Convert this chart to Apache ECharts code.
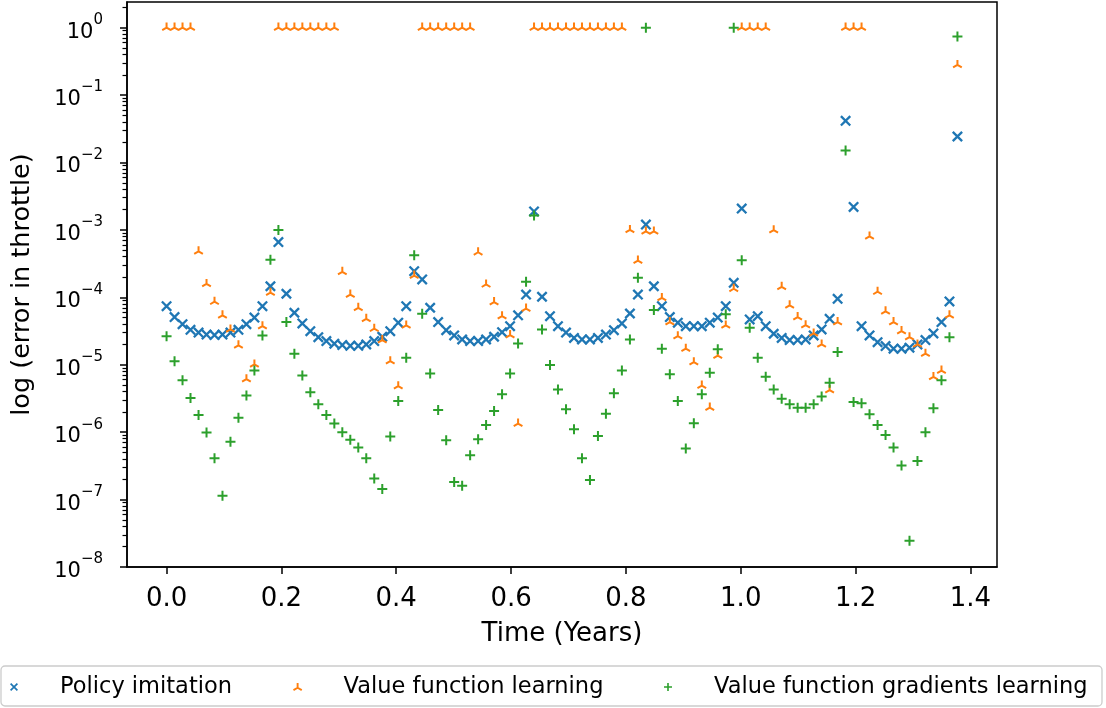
<!DOCTYPE html>
<html>
<head>
<meta charset="utf-8">
<script src="https://cdn.jsdelivr.net/npm/echarts@6/dist/echarts.min.js"></script>
<style>
  html, body { margin: 0; padding: 0; background: #fff; }
  #chart { width: 1106px; height: 708px; }
</style>
</head>
<body>
<div id="chart"></div>
<script>
// sample times (years), one every ~5 days
const times = [
  0.0000, 0.0139, 0.0278, 0.0417, 0.0557, 0.0696, 0.0835, 0.0974, 0.1113, 0.1252,
  0.1391, 0.1530, 0.1670, 0.1809, 0.1948, 0.2087, 0.2226, 0.2365, 0.2504, 0.2643,
  0.2783, 0.2922, 0.3061, 0.3200, 0.3339, 0.3478, 0.3617, 0.3757, 0.3896, 0.4035,
  0.4174, 0.4313, 0.4452, 0.4591, 0.4730, 0.4870, 0.5009, 0.5148, 0.5287, 0.5426,
  0.5565, 0.5704, 0.5843, 0.5983, 0.6122, 0.6261, 0.6400, 0.6539, 0.6678, 0.6817,
  0.6957, 0.7096, 0.7235, 0.7374, 0.7513, 0.7652, 0.7791, 0.7930, 0.8070, 0.8209,
  0.8348, 0.8487, 0.8626, 0.8765, 0.8904, 0.9043, 0.9183, 0.9322, 0.9461, 0.9600,
  0.9739, 0.9878, 1.0017, 1.0156, 1.0296, 1.0435, 1.0574, 1.0713, 1.0852, 1.0991,
  1.1130, 1.1270, 1.1409, 1.1548, 1.1687, 1.1826, 1.1965, 1.2104, 1.2243, 1.2383,
  1.2522, 1.2661, 1.2800, 1.2939, 1.3078, 1.3217, 1.3356, 1.3496, 1.3635, 1.3774
];

const policyImitation = [
  7.4e-5, 5.1e-5, 4.0e-5, 3.3e-5, 3.0e-5, 2.8e-5, 2.75e-5, 2.8e-5, 3.0e-5, 3.3e-5,
  4.0e-5, 5.0e-5, 7.4e-5, 1.46e-4, 6.6e-4, 1.13e-4, 5.9e-5, 4.1e-5, 3.15e-5, 2.56e-5,
  2.24e-5, 2.05e-5, 1.96e-5, 1.91e-5, 1.91e-5, 2.0e-5, 2.24e-5, 2.6e-5, 3.15e-5, 4.2e-5,
  7.4e-5, 2.44e-4, 1.84e-4, 7.0e-5, 4.3e-5, 3.26e-5, 2.72e-5, 2.37e-5, 2.24e-5, 2.24e-5,
  2.37e-5, 2.6e-5, 3.04e-5, 3.73e-5, 5.4e-5, 1.1e-4, 1.88e-3, 1.02e-4, 5.25e-5, 3.73e-5,
  3.0e-5, 2.5e-5, 2.37e-5, 2.37e-5, 2.5e-5, 2.8e-5, 3.26e-5, 4.1e-5, 5.75e-5, 1.1e-4,
  1.2e-3, 1.46e-4, 7.4e-5, 5.1e-5, 4.2e-5, 3.73e-5, 3.73e-5, 3.73e-5, 4.2e-5, 5.0e-5,
  7.4e-5, 1.64e-4, 2.07e-3, 4.7e-5, 5.25e-5, 3.73e-5, 2.88e-5, 2.5e-5, 2.32e-5, 2.32e-5,
  2.37e-5, 2.72e-5, 3.34e-5, 4.8e-5, 9.5e-5, 4.15e-2, 2.19e-3, 3.73e-5, 2.72e-5, 2.16e-5,
  1.89e-5, 1.73e-5, 1.73e-5, 1.79e-5, 2.0e-5, 2.32e-5, 2.91e-5, 4.3e-5, 8.7e-5, 2.43e-2
];

const valueFunction = [
  1, 1, 1, 1, 4.8e-4, 1.58e-4, 8.6e-5, 5.4e-5, 3.34e-5, 1.94e-5,
  6.1e-6, 1.01e-5, 3.73e-5, 1.17e-4, 1, 1, 1, 1, 1, 1,
  1, 1, 2.39e-4, 1.1e-4, 7.0e-5, 4.8e-5, 3.42e-5, 2.32e-5, 1.13e-5, 4.8e-6,
  3.83e-5, 2.1e-4, 1, 1, 1, 1, 1, 1, 1, 4.66e-4,
  1.55e-4, 8.5e-5, 5.25e-5, 2.75e-5, 1.34e-6, 6.8e-5, 1, 1, 1, 1,
  1, 1, 1, 1, 1, 1, 1, 1, 1.0e-3, 3.5e-4,
  9.5e-4, 9.5e-4, 9.8e-5, 4.3e-5, 2.65e-5, 1.73e-5, 1.09e-5, 4.9e-6, 2.31e-6, 1.37e-5,
  3.83e-5, 1.34e-4, 1, 1, 1, 1, 9.9e-4, 1.43e-4, 7.6e-5, 5.1e-5,
  3.86e-5, 2.91e-5, 2.0e-5, 4.2e-6, 4.3e-5, 1, 1, 1, 8.0e-4, 1.21e-4,
  6.2e-5, 4.3e-5, 3.15e-5, 2.56e-5, 2.0e-5, 1.46e-5, 6.6e-6, 8.2e-6, 5.4e-5, 0.28
];

const valueGradients = [
  2.65e-5, 1.13e-5, 5.9e-6, 3.2e-6, 1.8e-6, 9.9e-7, 4.1e-7, 1.14e-7, 7.2e-7, 1.64e-6,
  3.5e-6, 8.2e-6, 2.72e-5, 3.6e-4, 1.0e-3, 4.3e-5, 1.46e-5, 6.9e-6, 3.9e-6, 2.6e-6,
  1.8e-6, 1.34e-6, 1.0e-6, 7.7e-7, 5.9e-7, 4.1e-7, 2.06e-7, 1.43e-7, 8.6e-7, 2.9e-6,
  1.27e-5, 4.2e-4, 5.7e-5, 7.4e-6, 2.13e-6, 7.6e-7, 1.83e-7, 1.6e-7, 4.55e-7, 7.85e-7,
  1.28e-6, 2.06e-6, 3.64e-6, 7.4e-6, 2.07e-5, 1.7e-4, 1.63e-3, 3.34e-5, 9.9e-6, 4.3e-6,
  2.18e-6, 1.1e-6, 4.1e-7, 1.96e-7, 8.8e-7, 1.88e-6, 3.77e-6, 8.2e-6, 2.37e-5, 1.95e-4,
  1.0, 6.5e-5, 1.73e-5, 7.2e-6, 2.9e-6, 5.7e-7, 1.36e-6, 3.64e-6, 7.6e-6, 1.69e-5,
  5.6e-5, 1.0, 3.55e-4, 3.53e-5, 1.27e-5, 6.65e-6, 4.3e-6, 3.14e-6, 2.6e-6, 2.31e-6,
  2.31e-6, 2.6e-6, 3.37e-6, 5.4e-6, 1.54e-5, 1.51e-2, 2.8e-6, 2.68e-6, 1.84e-6, 1.28e-6,
  9.1e-7, 5.9e-7, 3.2e-7, 2.45e-8, 3.74e-7, 1.0e-6, 2.26e-6, 5.9e-6, 2.56e-5, 0.736
];

const seriesNames = ['Policy imitation', 'Value function learning', 'Value function gradients learning'];
const xTicks = [0, 0.2, 0.4, 0.6, 0.8, 1.0, 1.2, 1.4];
const yTicks = [1e-8, 1e-7, 1e-6, 1e-5, 1e-4, 1e-3, 1e-2, 1e-1, 1];
const xMin = -0.0689;
const xMax = 1.4463;
const yMin = 1e-8;
const yMax = 2.4;

// minor log ticks 2..9 x 10^n, as exponents for the helper axis
const yMinorExp = [];
yTicks.forEach(function (t) {
  for (let m = 2; m <= 9; m++) {
    if (t * m <= yMax) yMinorExp.push(Math.log10(t * m));
  }
});

const FONT = 'DejaVu Sans';

// marker shapes (filled outlines so they show up the same in the legend)
const xMark = 'path://M-1,-0.7L-0.7,-1L1,0.7L0.7,1Z M1,-0.7L-0.7,1L-1,0.7L0.7,-1Z';
const plusMark = 'path://M-1,-0.2H1V0.2H-1Z M0.2,-1V1H-0.2V-1Z';
const triMark = 'path://M-0.2,0L-0.2,-1L0.2,-1L0.2,0Z M0.1,0.173L-0.766,0.673L-0.966,0.327L-0.1,-0.173Z M0.1,-0.173L0.966,0.327L0.766,0.673L-0.1,0.173Z';

function pairs(vals) {
  return times.map(function (t, i) { return [t, vals[i]]; });
}

const chart = echarts.init(document.getElementById('chart'), null, { renderer: 'canvas' });

chart.setOption({
  animation: false,
  backgroundColor: '#fff',
  textStyle: { fontFamily: FONT },
  grid: {
    left: 127, right: 109, top: 2, bottom: 141,
    show: true, borderColor: '#000', borderWidth: 1.5, backgroundColor: 'transparent'
  },
  graphic: [{
    type: 'rect', z: 0,
    shape: { x: 1, y: 666, width: 1101, height: 40, r: 4 },
    style: { fill: '#fff', stroke: '#cccccc', lineWidth: 1.3 }
  }],
  legend: [0, 1, 2].map(function (k) {
    return {
      data: [seriesNames[k]],
      left: [10, 293, 664][k],
      top: 674,
      padding: 0,
      itemWidth: 82,
      itemHeight: 8,
      z: 5,
      selectedMode: false,
      textStyle: { fontFamily: FONT, fontSize: 22.5, color: '#000', lineHeight: 26 }
    };
  }),
  xAxis: {
    type: 'value',
    min: xMin,
    max: xMax,
    name: 'Time (Years)',
    nameLocation: 'middle',
    nameGap: 54,
    nameTextStyle: { fontFamily: FONT, fontSize: 26, color: '#000' },
    axisLine: { show: true, onZero: false, lineStyle: { color: '#000', width: 1.5 } },
    axisTick: { show: true, customValues: xTicks, length: 7, lineStyle: { color: '#000', width: 1.5 } },
    axisLabel: {
      customValues: xTicks, interval: 0, margin: 19,
      fontFamily: FONT, fontSize: 26, color: '#000',
      formatter: function (v) { return v.toFixed(1); }
    },
    splitLine: { show: false }
  },
  yAxis: [{
    type: 'log',
    logBase: 10,
    min: yMin,
    max: yMax,
    name: 'log (error in throttle)',
    nameLocation: 'middle',
    nameGap: 92,
    nameRotate: 90,
    nameTextStyle: { fontFamily: FONT, fontSize: 25.5, color: '#000' },
    axisLine: { show: true, onZero: false, lineStyle: { color: '#000', width: 1.5 } },
    axisTick: { show: true, customValues: yTicks, length: 7, lineStyle: { color: '#000', width: 1.5 } },
    axisLabel: {
      customValues: yTicks, interval: 0, margin: 24,
      formatter: function (v) {
        const e = Math.round(Math.log10(v));
        return '{b|10}{s|' + (e < 0 ? '\u2212' : '') + Math.abs(e) + '}';
      },
      rich: {
        b: { fontFamily: FONT, fontSize: 21, color: '#000', lineHeight: 30, verticalAlign: 'bottom' },
        s: { fontFamily: FONT, fontSize: 15, color: '#000', lineHeight: 15, verticalAlign: 'top' }
      }
    },
    splitLine: { show: false }
  }, {
    // helper axis in exponent units, carries only the minor ticks
    type: 'value',
    min: Math.log10(yMin),
    max: Math.log10(yMax),
    position: 'left',
    axisLine: { show: false, onZero: false },
    axisTick: { show: true, customValues: yMinorExp, length: 4.5, lineStyle: { color: '#000', width: 1.2 } },
    axisLabel: { show: false },
    splitLine: { show: false }
  }],
  series: [{
    name: seriesNames[0],
    type: 'scatter',
    data: pairs(policyImitation),
    symbol: xMark,
    symbolSize: 11,
    itemStyle: { color: '#1f77b4', opacity: 1 },
    z: 2
  }, {
    name: seriesNames[1],
    type: 'scatter',
    data: pairs(valueFunction),
    symbol: triMark,
    symbolSize: [9.7, 8.4],
    symbolOffset: [0, -0.82],
    itemStyle: { color: '#ff7f0e', opacity: 1 },
    z: 3
  }, {
    name: seriesNames[2],
    type: 'scatter',
    data: pairs(valueGradients),
    symbol: plusMark,
    symbolSize: 10,
    itemStyle: { color: '#2ca02c', opacity: 1 },
    z: 4
  }]
});
</script>
</body>
</html>
